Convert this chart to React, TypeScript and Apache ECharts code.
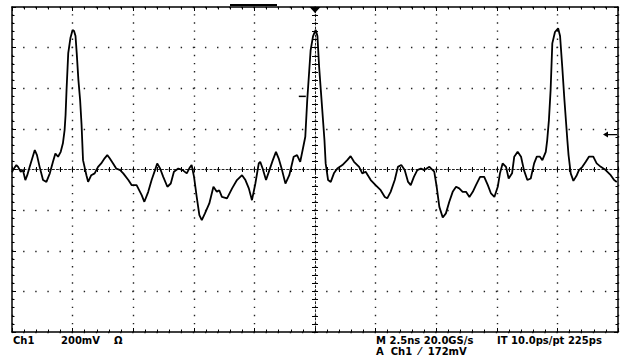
import React, { useEffect, useRef } from "react";
import * as echarts from "echarts";

const timeNs = [
  -12.5, -12.46, -12.32, -12.25, -12.14, -12.05, -11.95, -11.87, -11.77, -11.56,
  -11.47, -11.36, -11.22, -11.08, -10.94, -10.81, -10.71, -10.6, -10.49, -10.4,
  -10.33, -10.29, -10.25, -10.18, -10.09, -10.0, -9.94, -9.88, -9.83, -9.76,
  -9.69, -9.63, -9.57, -9.43, -9.36, -9.23, -9.09, -8.95, -8.82, -8.68,
  -8.57, -8.47, -8.33, -8.2, -8.04, -7.91, -7.7, -7.56, -7.36, -7.15,
  -7.04, -6.88, -6.74, -6.6, -6.51, -6.39, -6.26, -6.09, -5.95, -5.82,
  -5.64, -5.46, -5.29, -5.18, -5.09, -4.99, -4.88, -4.77, -4.67, -4.54,
  -4.36, -4.19, -4.05, -3.95, -3.84, -3.63, -3.42, -3.22, -3.01, -2.87,
  -2.73, -2.6, -2.46, -2.32, -2.26, -2.16, -2.02, -1.88, -1.74, -1.61,
  -1.5, -1.36, -1.22, -1.06, -0.88, -0.74, -0.61, -0.51, -0.4, -0.32,
  -0.25, -0.18, -0.08, 0.03, 0.1, 0.17, 0.24, 0.3, 0.39, 0.44,
  0.54, 0.65, 0.78, 0.92, 1.13, 1.33, 1.47, 1.61, 1.82, 1.95,
  2.09, 2.3, 2.5, 2.71, 2.88, 2.98, 3.12, 3.29, 3.42, 3.56,
  3.7, 3.84, 3.95, 4.08, 4.22, 4.37, 4.51, 4.72, 4.92, 5.02,
  5.13, 5.27, 5.4, 5.54, 5.68, 5.82, 5.95, 6.09, 6.23, 6.37,
  6.51, 6.64, 6.81, 6.98, 7.13, 7.26, 7.4, 7.54, 7.63, 7.74,
  7.88, 7.99, 8.13, 8.22, 8.36, 8.5, 8.62, 8.76, 8.9, 9.04,
  9.15, 9.28, 9.38, 9.52, 9.58, 9.65, 9.72, 9.79, 9.9, 10.03,
  10.11, 10.2, 10.29, 10.41, 10.46, 10.55, 10.66, 10.8, 10.89, 11.03,
  11.17, 11.3, 11.48, 11.62, 11.79, 11.99, 12.2, 12.34, 12.45,
];
const voltageMv = [
  -13, -3, 22, 13, -11, -3, -52, -28, 13, 96,
  71, 13, -52, -61, -19, 38, 79, 63, 87, 129,
  194, 268, 391, 573, 647, 687, 682, 657, 573, 440,
  342, 219, 46, -28, -61, -28, -19, 13, 30, 55,
  71, 55, 30, 5, -3, -19, -52, -77, -77, -126,
  -159, -110, -52, -3, 30, 5, -36, -85, -69, -11,
  5, -3, -19, 7, 22, -36, -135, -225, -249, -216,
  -167, -85, -110, -102, -135, -142, -93, -52, -28, -52,
  -93, -151, -69, 30, 38, 5, -52, -3, 46, 87,
  55, -3, -69, -28, 63, 71, 38, 96, 161, 342,
  465, 588, 657, 687, 657, 506, 391, 293, 145, 30,
  -52, -61, -19, 5, 22, 46, 66, 38, 13, -19,
  -11, -52, -77, -102, -135, -142, -110, -52, 13, 22,
  -3, -61, -77, -36, -3, 5, -3, 13, -11, -85,
  -184, -236, -216, -159, -110, -85, -93, -110, -110, -135,
  -110, -77, -36, -36, -77, -118, -135, -85, -19, 30,
  13, -44, -19, 63, 87, 63, -3, -52, -44, 30,
  63, 63, 46, 87, 145, 243, 391, 621, 677, 695,
  657, 506, 342, 145, 71, -19, -56, -28, -3, 13,
  38, 63, 63, 30, 13, -3, -28, -52, -61,
];

// Scope settings
const timeMin = -12.5; // ns (10 div x 2.5 ns)
const timeMax = 12.5;
const timeDiv = 2.5;
const voltMin = -800; // mV (8 div x 200 mV)
const voltMax = 800;
const voltDiv = 200;
const triggerLevelMv = 172;

const statusLine1Left = ["Ch1", "200mV", "Ω"];
const statusLine1Right = ["M 2.5ns 20.0GS/s", "IT 10.0ps/pt 225ps"];
const statusLine2Right = "A  Ch1  ⁄  172mV";

const GRID = { left: 12, top: 7, width: 606, height: 325 };
const FONT = "DejaVu Sans";

export default function App() {
  const ref = useRef<HTMLDivElement>(null);

  useEffect(() => {
    if (!ref.current) return;
    const chart = echarts.init(ref.current, null, { renderer: "svg" });

    const hPeriod = GRID.width / 10 / 5; // dot spacing on horizontal lines
    const vPeriod = GRID.height / 8 / 5; // dot spacing on vertical lines

    const black = "#000";
    const borderLine = { onZero: false, lineStyle: { color: black, width: 1.5 } };
    const tick = (inside: boolean, len: number) => ({
      show: true,
      inside,
      length: len,
      lineStyle: { color: black, width: 1 },
    });
    const minor = (len: number) => ({
      show: true,
      splitNumber: 5,
      length: len,
      lineStyle: { color: black, width: 1 },
    });

    const xCommon = {
      type: "value",
      min: timeMin,
      max: timeMax,
      interval: timeDiv,
      axisLabel: { show: false },
      splitLine: { show: false },
    };
    const yCommon = {
      type: "value",
      min: voltMin,
      max: voltMax,
      interval: voltDiv,
      axisLabel: { show: false },
      splitLine: { show: false },
    };

    const data = timeNs.map((t, i) => [t, voltageMv[i]]);
    const font = `bold 10px '${FONT}'`;
    const txt = (text: string, x: number, y: number) => ({
      type: "text",
      x,
      y,
      style: { text, font, fill: "#000", verticalAlign: "middle" },
    });

    chart.setOption({
      animation: false,
      backgroundColor: "#fff",
      grid: { ...GRID, containLabel: false },
      xAxis: [
        {
          ...xCommon,
          position: "bottom",
          axisLine: borderLine,
          axisTick: tick(true, 4),
          minorTick: minor(2.5),
          splitLine: {
            show: true,
            lineStyle: {
              color: "#222",
              width: 1.4,
              type: [1.4, vPeriod - 1.4],
              dashOffset: 0.7,
            },
          },
        },
        {
          ...xCommon,
          position: "top",
          axisLine: borderLine,
          axisTick: tick(true, 4),
          minorTick: minor(2.5),
        },
        {
          ...xCommon,
          position: "bottom",
          axisLine: {
            onZero: true,
            onZeroAxisIndex: 0,
            lineStyle: { color: "#222", width: 1, type: [2, 2.04] },
          },
          axisTick: tick(true, 3),
          minorTick: minor(2.5),
        },
        {
          ...xCommon,
          position: "bottom",
          axisLine: { show: false, onZero: true, onZeroAxisIndex: 0 },
          axisTick: tick(false, 3),
          minorTick: minor(2.5),
        },
      ],
      yAxis: [
        {
          ...yCommon,
          position: "left",
          axisLine: borderLine,
          axisTick: tick(true, 4),
          minorTick: minor(2.5),
          splitLine: {
            show: true,
            lineStyle: {
              color: "#222",
              width: 1.4,
              type: [1.4, hPeriod - 1.4],
              dashOffset: 0.7,
            },
          },
        },
        {
          ...yCommon,
          position: "right",
          axisLine: borderLine,
          axisTick: tick(true, 4),
          minorTick: minor(2.5),
        },
        {
          ...yCommon,
          position: "left",
          axisLine: {
            onZero: true,
            onZeroAxisIndex: 0,
            lineStyle: { color: "#222", width: 1, type: [2, 2.04] },
          },
          axisTick: tick(true, 3),
          minorTick: minor(3),
        },
        {
          ...yCommon,
          position: "left",
          axisLine: { show: false, onZero: true, onZeroAxisIndex: 0 },
          axisTick: tick(false, 3),
          minorTick: minor(3),
        },
      ],
      series: [
        {
          type: "line",
          xAxisIndex: 0,
          yAxisIndex: 0,
          data,
          showSymbol: false,
          symbol: "none",
          lineStyle: { color: "#000", width: 1.8 },
          z: 5,
          markPoint: {
            silent: true,
            label: { show: false },
            itemStyle: { color: "#000" },
            data: [
              {
                coord: [0, voltMax],
                symbol: "path://M0,0 L12,0 L6,7 Z",
                symbolSize: [11, 6],
                symbolOffset: [0, 3],
              },
              {
                coord: [timeMax, triggerLevelMv],
                symbol: "path://M0,3 L5,0 L5,2.4 L14,2.4 L14,3.6 L5,3.6 L5,6 Z",
                symbolSize: [14, 6],
                symbolOffset: [-8, 0],
              },
              {
                coord: [-0.4, 360],
                symbol: "rect",
                symbolSize: [7, 1.5],
                symbolOffset: [-3, 0],
              },
            ],
          },
        },
      ],
      graphic: {
        elements: [
          { type: "rect", left: 230, top: 4, shape: { width: 47, height: 2 }, style: { fill: "#000" } },
          txt(statusLine1Left[0], 13, 340.5),
          txt(statusLine1Left[1], 61, 340.5),
          txt(statusLine1Left[2], 114, 340.5),
          txt(statusLine1Right[0], 376, 340.5),
          txt(statusLine1Right[1], 497, 340.5),
          txt(statusLine2Right, 376, 351.5),
        ],
      },
    });

    return () => chart.dispose();
  }, []);

  return (
    <div
      ref={ref}
      style={{ position: "fixed", left: 0, top: 0, width: 624, height: 356, background: "#fff" }}
    />
  );
}
